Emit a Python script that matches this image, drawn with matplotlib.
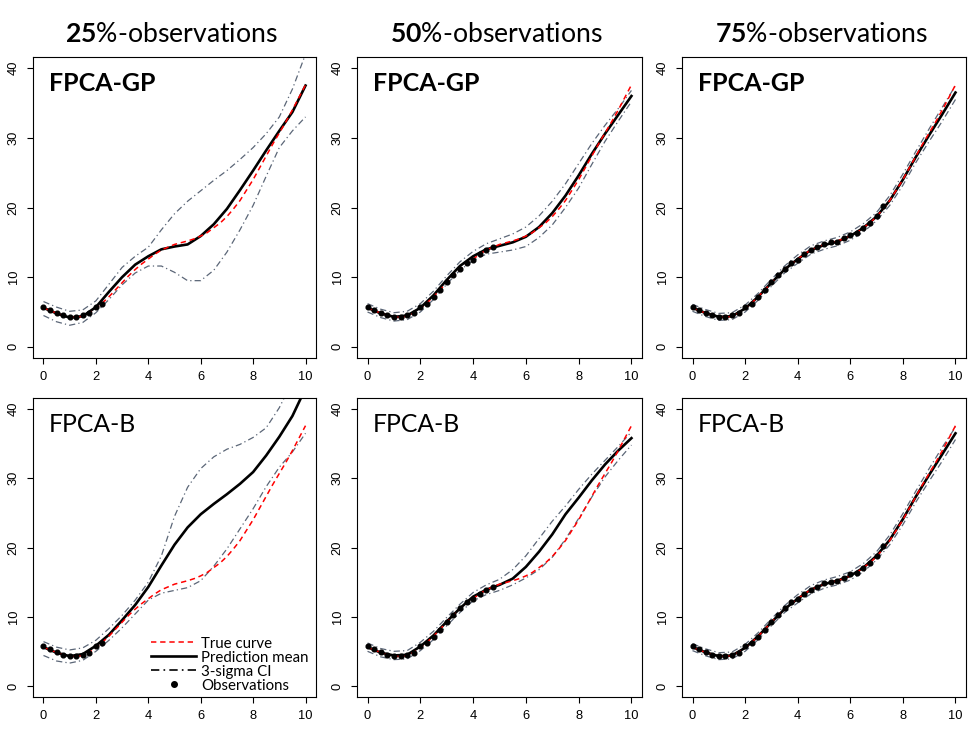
import matplotlib
matplotlib.use('Agg')
import matplotlib.pyplot as plt
from matplotlib.lines import Line2D

plt.rcParams['mathtext.fontset'] = 'custom'
plt.rcParams['mathtext.rm'] = 'Lato'
plt.rcParams['mathtext.bf'] = 'Lato:bold'

# grids
t_grid = [0, 0.5, 1, 1.5, 2, 2.5, 3, 3.5, 4, 4.5, 5, 5.5, 6, 6.5, 7, 7.5, 8, 8.5, 9, 9.5, 10]
t_fine = [0, 0.25, 0.5, 0.75, 1, 1.25, 1.5, 1.75, 2, 2.25, 2.5, 2.75, 3, 3.25, 3.5, 3.75,
          4, 4.25, 4.5, 4.75, 5, 5.25, 5.5, 5.75, 6, 6.25, 6.5, 6.75, 7, 7.25, 7.5, 7.75,
          8, 8.25, 8.5, 8.75, 9, 9.25, 9.5, 9.75, 10]

true_curve = [5.6, 5.2, 4.85, 4.55, 4.3, 4.25, 4.4, 4.85, 5.5, 6.3, 7.2, 8.2, 9.2, 10.2, 11.1, 11.9,
              12.6, 13.3, 13.9, 14.3, 14.7, 14.95, 15.2, 15.5, 15.9, 16.4, 17.1, 17.8, 18.7, 19.8, 21.0, 22.5,
              24.0, 25.7, 27.4, 29.1, 30.7, 32.3, 34.0, 35.8, 37.6]

obs_t = t_fine[:30]
obs_y = [5.7, 5.3, 4.9, 4.5, 4.3, 4.3, 4.5, 4.8, 5.7, 6.2, 7.1, 8.1, 9.3, 10.3, 11.2, 12.1,
         12.5, 13.3, 13.9, 14.3, 14.8, 15.0, 15.1, 15.6, 16.1, 16.3, 17.0, 17.8, 18.8, 20.2]

# FPCA-GP
gp25_mean = [5.6, 4.8, 4.2, 4.4, 5.7, 7.9, 10.0, 11.8, 13.0, 14.0, 14.4, 14.7, 15.9, 17.6, 19.8, 22.5, 25.3, 28.2, 31.0, 33.7, 37.5]
gp25_up = [6.5, 5.7, 5.1, 5.3, 6.6, 9.0, 11.4, 13.0, 14.3, 16.8, 19.1, 20.9, 22.4, 23.9, 25.3, 26.9, 28.6, 30.6, 33.0, 37.0, 42.0]
gp25_lo = [4.5, 3.6, 3.1, 3.5, 4.9, 6.8, 8.9, 10.6, 11.6, 11.6, 10.7, 9.5, 9.5, 11.0, 13.6, 16.8, 20.3, 24.5, 28.6, 31.0, 33.0]

gp50_mean = [5.6, 4.8, 4.3, 4.5, 5.6, 7.4, 9.6, 11.6, 13.0, 14.0, 14.5, 15.0, 15.8, 17.2, 19.2, 21.7, 24.6, 27.7, 30.6, 33.3, 36.0]
gp50_up = [6.2, 5.4, 4.9, 5.1, 6.2, 8.0, 10.2, 12.2, 13.7, 14.8, 15.5, 16.2, 17.2, 18.8, 20.9, 23.4, 26.3, 29.2, 31.8, 34.2, 36.8]
gp50_lo = [5.0, 4.2, 3.7, 3.9, 5.0, 6.8, 9.0, 11.0, 12.4, 13.3, 13.6, 13.9, 14.4, 15.7, 17.5, 20.0, 22.8, 26.2, 29.5, 32.4, 35.2]

gp75_mean = [5.6, 4.85, 4.3, 4.4, 5.5, 7.2, 9.2, 11.1, 12.6, 13.9, 14.6, 15.1, 15.9, 17.1, 18.7, 21.0, 24.0, 27.3, 30.4, 33.4, 36.5]
gp75_up = [6.1, 5.35, 4.8, 4.9, 6.0, 7.7, 9.7, 11.6, 13.2, 14.5, 15.2, 15.7, 16.5, 17.7, 19.3, 21.7, 24.8, 28.1, 31.3, 34.4, 37.5]
gp75_lo = [5.1, 4.35, 3.8, 3.9, 5.0, 6.7, 8.7, 10.6, 12.0, 13.3, 14.0, 14.5, 15.3, 16.5, 18.1, 20.3, 23.2, 26.5, 29.5, 32.4, 35.5]

# FPCA-B
b25_mean = [5.6, 4.8, 4.3, 4.6, 5.8, 7.4, 9.5, 11.7, 14.3, 17.4, 20.4, 22.9, 24.8, 26.3, 27.7, 29.2, 30.9, 33.3, 36.0, 39.0, 43.0]
b25_up = [6.4, 5.6, 5.2, 5.5, 6.6, 8.3, 10.2, 12.4, 15.0, 18.8, 24.5, 28.7, 31.4, 33.1, 34.2, 34.9, 35.9, 37.3, 40.2, 44.0, 48.0]
b25_lo = [4.4, 3.6, 3.3, 3.7, 5.0, 6.6, 8.4, 10.4, 12.4, 13.4, 13.8, 14.2, 15.2, 17.3, 19.8, 22.7, 25.6, 28.8, 31.6, 33.8, 36.5]

b50_mean = [5.6, 4.8, 4.4, 4.5, 5.7, 7.3, 9.3, 11.2, 12.9, 13.9, 14.6, 15.5, 17.2, 19.4, 21.9, 24.8, 27.2, 29.7, 32.0, 34.0, 35.8]
b50_up = [6.2, 5.4, 5.0, 5.1, 6.3, 7.9, 9.9, 11.8, 13.5, 14.6, 15.4, 16.8, 18.8, 21.3, 23.8, 26.0, 28.4, 30.6, 32.6, 34.6, 36.7]
b50_lo = [5.0, 4.2, 3.8, 3.9, 5.1, 6.7, 8.7, 10.6, 12.3, 13.2, 13.8, 14.6, 15.6, 16.8, 18.6, 21.2, 24.2, 27.3, 30.2, 32.6, 34.8]

b75_mean = [5.6, 4.85, 4.3, 4.4, 5.5, 7.2, 9.2, 11.1, 12.6, 13.9, 14.7, 15.2, 15.9, 17.1, 18.8, 21.1, 24.1, 27.4, 30.5, 33.5, 36.5]
b75_up = [6.1, 5.35, 4.8, 4.9, 6.0, 7.7, 9.7, 11.6, 13.2, 14.5, 15.3, 15.8, 16.5, 17.7, 19.4, 21.8, 24.9, 28.2, 31.4, 34.5, 37.4]
b75_lo = [5.1, 4.35, 3.8, 3.9, 5.0, 6.7, 8.7, 10.6, 12.0, 13.3, 14.1, 14.6, 15.3, 16.5, 18.2, 20.4, 23.3, 26.6, 29.6, 32.5, 35.6]

col_titles = ['25', '50', '75']
n_obs = [10, 20, 30]
method_names = ['FPCA-GP', 'FPCA-B']

panels = [
    [(gp25_mean, gp25_up, gp25_lo), (gp50_mean, gp50_up, gp50_lo), (gp75_mean, gp75_up, gp75_lo)],
    [(b25_mean, b25_up, b25_lo), (b50_mean, b50_up, b50_lo), (b75_mean, b75_up, b75_lo)],
]

W, H = 979, 750
fig = plt.figure(figsize=(W / 100, H / 100), dpi=100)

col_left = [33, 357, 682]
col_width = [283, 285, 284]
row_top = [57, 398]
row_bottom = [358, 697]

ci_color = '#5b6677'
ci_ls = (0, (5, 2.5, 1, 2.5))
red_ls = (0, (3.5, 2.5))

for r in range(2):
    for c in range(3):
        mean, up, lo = panels[r][c]
        left = col_left[c] / W
        bottom = 1 - row_bottom[r] / H
        ax = fig.add_axes([left, bottom, col_width[c] / W, (row_bottom[r] - row_top[r]) / H])
        ax.plot(t_grid, up, color=ci_color, lw=0.9, ls=ci_ls)
        ax.plot(t_grid, lo, color=ci_color, lw=0.9, ls=ci_ls)
        ax.plot(t_grid, mean, color='black', lw=1.9)
        ax.plot(t_fine, true_curve, color='red', lw=1.1, ls=red_ls)
        ax.plot(obs_t[:n_obs[c]], obs_y[:n_obs[c]], 'o', color='black', ms=3.4)

        ax.set_xlim(-0.4, 10.4)
        ax.set_ylim(-1.6, 41.6)
        ax.set_xticks([0, 2, 4, 6, 8, 10])
        ax.set_yticks([0, 10, 20, 30, 40])
        ax.set_yticklabels(['0', '10', '20', '30', '40'], rotation=90, va='center')
        ax.tick_params(length=4.5, width=0.8, labelsize=9.3, direction='out')
        ax.tick_params(axis='x', pad=5)
        ax.tick_params(axis='y', pad=5)
        for lab in ax.get_xticklabels() + ax.get_yticklabels():
            lab.set_fontfamily('Liberation Sans')
        for s in ax.spines.values():
            s.set_linewidth(0.8)

        ax.text(0.057, 0.912, method_names[r], transform=ax.transAxes,
                fontfamily='Lato', fontsize=18 if r == 0 else 17.8, va='center', ha='left',
                fontweight='bold' if r == 0 else 'normal')

        if r == 0:
            fig.text((col_left[c] + col_width[c] / 2 - 3) / W, 1 - 34 / H,
                     r'$\mathbf{' + col_titles[c] + r'}$%-observations',
                     fontfamily='Lato', fontsize=19.2, ha='center', va='center')

        if r == 1 and c == 0:
            handles = [
                Line2D([], [], color='red', lw=1.1, ls=red_ls),
                Line2D([], [], color='black', lw=1.9),
                Line2D([], [], color='black', lw=1.2, ls=ci_ls),
                Line2D([], [], color='black', ls='none', marker='o', ms=4),
            ]
            ax.legend(handles, ['True curve', 'Prediction mean', '3-sigma CI', 'Observations'],
                      loc='lower right', bbox_to_anchor=(0.975, 0.015), frameon=False,
                      prop={'family': 'Lato', 'size': 10.8}, handlelength=3.0,
                      handletextpad=0.35, labelspacing=0.0, borderpad=0, borderaxespad=0)

fig.savefig('out.png', dpi=100)
